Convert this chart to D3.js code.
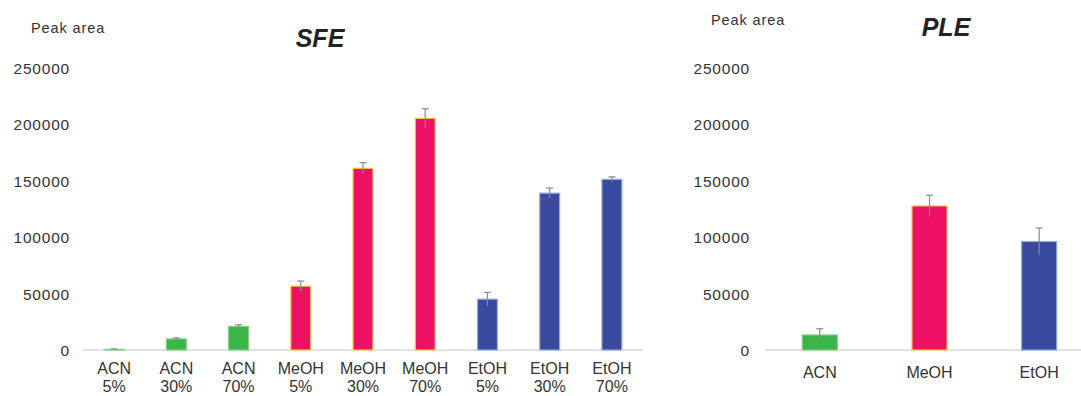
<!DOCTYPE html>
<html><head><meta charset="utf-8">
<script src="https://cdn.jsdelivr.net/npm/d3@7"></script>
<style>body{margin:0;background:#fff}svg{display:block}</style>
</head><body>
<svg id="c" width="1081" height="396"></svg>
<script>
const yTicks = [0, 50000, 100000, 150000, 200000, 250000];
const sfeCats = ["ACN|5%","ACN|30%","ACN|70%","MeOH|5%","MeOH|30%","MeOH|70%","EtOH|5%","EtOH|30%","EtOH|70%"];
const sfeVals = [500, 9800, 20800, 56500, 160800, 205000, 45000, 138800, 151000];
const sfeErr  = [400, 900, 1500, 4500, 5000, 8500, 6000, 4500, 2200];
const sfeSolv = ["ACN","ACN","ACN","MeOH","MeOH","MeOH","EtOH","EtOH","EtOH"];
const pleCats = ["ACN","MeOH","EtOH"];
const pleVals = [13300, 127500, 96000];
const pleErr  = [5500, 9500, 12000];
const pleSolv = ["ACN","MeOH","EtOH"];

const fillC = {ACN:"#3bb54a", MeOH:"#ec1162", EtOH:"#3a4a9f"};
const strokeC = {ACN:"#7fd08a", MeOH:"#f7c64e", EtOH:"#93abdc"};

const svg = d3.select("#c");
const font = "Arial, 'Liberation Sans', sans-serif";

function panel(o){
  const g = svg.append("g");
  const x = d3.scaleBand().domain(o.cats).range([o.x0, o.x1]).paddingInner(0.68).paddingOuter(0.34);
  const y = d3.scaleLinear().domain([0, 250000]).range([350, 67.5]);
  g.append("line").attr("x1", o.x0).attr("x2", o.lineEnd).attr("y1", y(0)).attr("y2", y(0))
    .attr("stroke", "#d9d9d9").attr("stroke-width", 1.5);
  const ya = d3.axisLeft(y).tickValues(yTicks).tickSize(0).tickPadding(0).tickFormat(d3.format("d"));
  const yg = g.append("g").attr("transform", `translate(${o.labelX},0)`).call(ya);
  yg.select(".domain").remove();
  yg.selectAll("text").attr("font-family", font).attr("font-size", 15.5).attr("letter-spacing", 0.8)
    .attr("fill", "#333").attr("dy", "0.36em");
  g.selectAll("rect.b").data(o.vals).join("rect")
    .attr("x", (d,i) => x(o.cats[i]))
    .attr("width", x.bandwidth())
    .attr("y", d => y(d))
    .attr("height", d => y(0) - y(d))
    .attr("fill", (d,i) => fillC[o.solv[i]])
    .attr("stroke", (d,i) => strokeC[o.solv[i]])
    .attr("stroke-width", 1.2);
  const eg = g.selectAll("g.e").data(o.vals).join("g");
  eg.append("line")
    .attr("x1", (d,i) => x(o.cats[i]) + x.bandwidth()/2)
    .attr("x2", (d,i) => x(o.cats[i]) + x.bandwidth()/2)
    .attr("y1", (d,i) => y(d + o.err[i]))
    .attr("y2", (d,i) => y(Math.max(0, d - o.err[i])))
    .attr("stroke", "#8a8a8a").attr("stroke-width", 1.2);
  eg.append("line")
    .attr("x1", (d,i) => x(o.cats[i]) + x.bandwidth()/2 - 3.5)
    .attr("x2", (d,i) => x(o.cats[i]) + x.bandwidth()/2 + 3.5)
    .attr("y1", (d,i) => y(d + o.err[i]))
    .attr("y2", (d,i) => y(d + o.err[i]))
    .attr("stroke", "#8a8a8a").attr("stroke-width", 1.2);
  const xa = d3.axisBottom(x).tickSize(0).tickPadding(0).tickFormat(() => "");
  const xg = g.append("g").attr("transform", `translate(0,${y(0)})`).call(xa);
  xg.select(".domain").remove();
  xg.selectAll(".tick text").each(function(d){
    const t = d3.select(this).attr("font-family", font).attr("font-size", 16).attr("fill", "#333")
      .attr("y", o.labY).attr("dy", 0);
    d.split("|").forEach((s, k) => t.append("tspan").attr("x", 0).attr("dy", k === 0 ? 0 : 18).text(s));
  });
  g.append("text").attr("x", o.peakX).attr("y", o.peakY).text("Peak area")
    .attr("font-family", font).attr("font-size", 14.5).attr("letter-spacing", 0.9).attr("fill", "#333");
  g.append("text").attr("x", o.titleX).attr("y", o.titleY).text(o.title)
    .attr("text-anchor", "middle").attr("font-family", font).attr("font-size", 25)
    .attr("font-weight", "bold").attr("font-style", "italic").attr("fill", "#222");
}

panel({cats: sfeCats, vals: sfeVals, err: sfeErr, solv: sfeSolv, x0: 83, x1: 643, lineEnd: 643,
  labelX: 70, labY: 24, peakX: 31, peakY: 33, titleX: 320, titleY: 47, title: "SFE"});
panel({cats: pleCats, vals: pleVals, err: pleErr, solv: pleSolv, x0: 765, x1: 1094, lineEnd: 1081,
  labelX: 750, labY: 28, peakX: 711, peakY: 25, titleX: 946, titleY: 36, title: "PLE"});
</script>
</body></html>
